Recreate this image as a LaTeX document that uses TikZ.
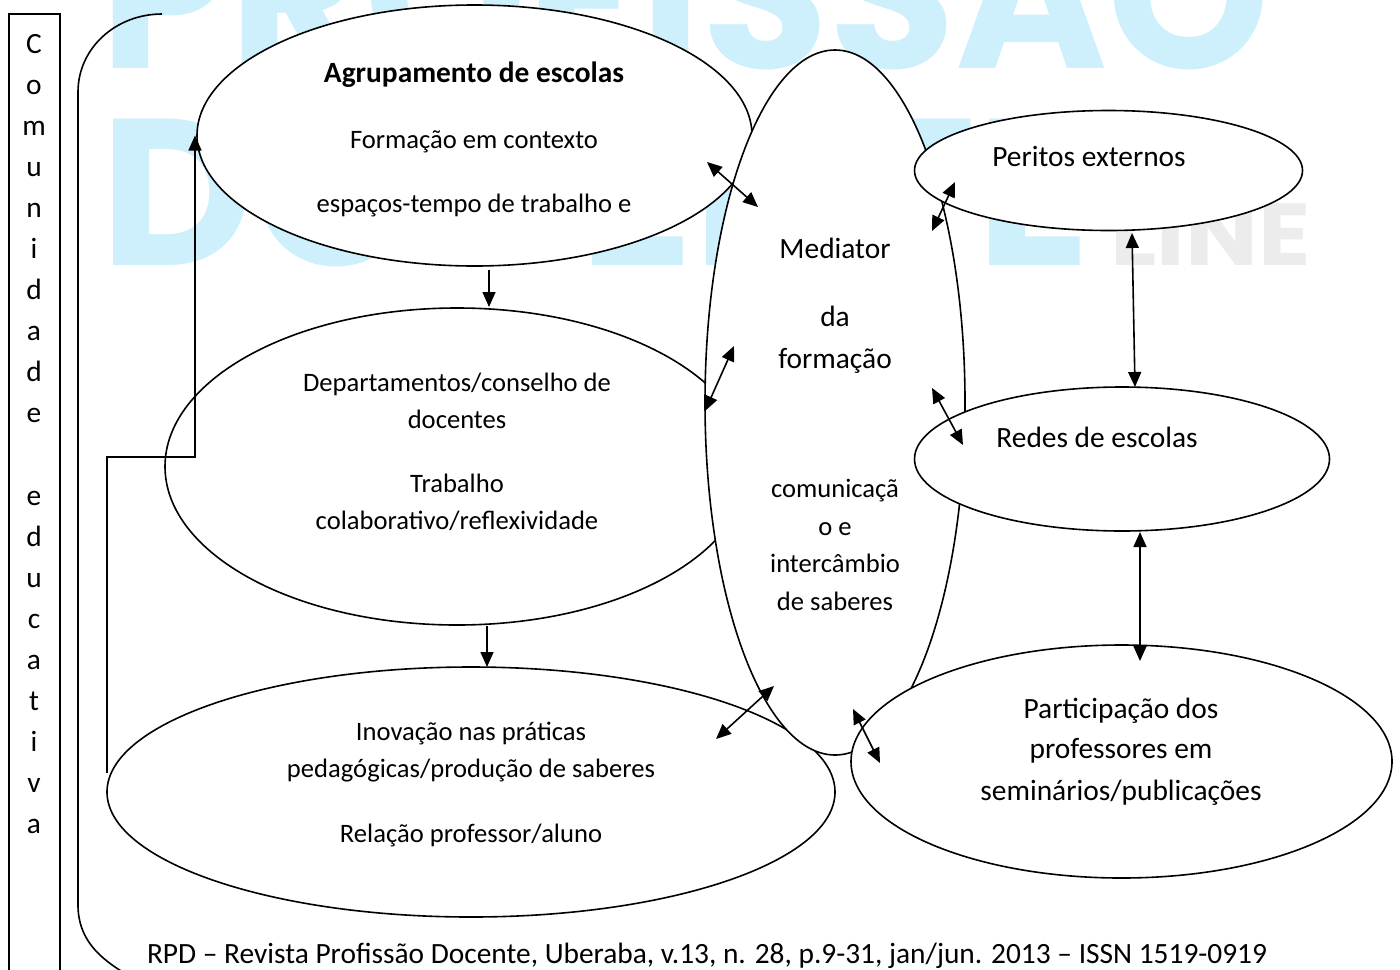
\documentclass[tikz,border=0pt]{standalone}
\usepackage{fontspec}
\usepackage{graphicx}
\setmainfont{Carlito}
\newfontfamily\wmfont{Poppins}
\usetikzlibrary{shapes.geometric,arrows.meta}
\definecolor{wmblue}{RGB}{206,239,252}
\definecolor{wmgray}{RGB}{236,236,236}
\begin{document}
\begin{tikzpicture}[x=0.5pt,y=-0.5pt,
  ell/.style={draw, ellipse, fill=white, line width=0.8pt, inner sep=0pt},
  txt/.style={inner sep=0pt, anchor=base, font=\fontsize{13.3}{16}\selectfont},
  txtl/.style={inner sep=0pt, anchor=base, font=\fontsize{14.7}{17}\selectfont},
  txtb/.style={txt, font=\fontsize{14.7}{17}\selectfont\bfseries},
  wm/.style={inner sep=0pt, font=\wmfont\bfseries},
  conn/.style={line width=0.8pt},
  dbl/.style={conn, {Triangle[length=7.5pt,width=6.5pt]}-{Triangle[length=7.5pt,width=6.5pt]}},
  one/.style={conn, -{Triangle[length=7.5pt,width=6.5pt]}}]
\path[use as bounding box, clip] (0,0) rectangle (1400,969);
% watermark
\node[wm, anchor=base west, text=wmblue] (wm1) at (100,68) {\resizebox{585pt}{73.5pt}{\raisebox{0pt}[\fontcharht\font`\P][0pt]{PROFISSÃO}}};
\node[wm, anchor=base west, text=wmgray] (wm3) at (1110,265) {\resizebox{100pt}{31pt}{\raisebox{0pt}[\fontcharht\font`\L][0pt]{LINE}}};
\node[wm, anchor=base west, text=wmblue] (wm2) at (100,265) {\resizebox{495pt}{73.5pt}{\raisebox{0pt}[\fontcharht\font`\D][0pt]{DOCENTE}}};
% ellipses
\node[ell, minimum width=277.5pt, minimum height=130.5pt] (agr) at (474.5,135.5) {};
\node[ell, minimum width=292pt, minimum height=158.5pt] (dep) at (457,466.5) {};
\node[ell, minimum width=364pt, minimum height=125pt] (inov) at (471,792) {};
\node[ell, minimum width=130pt, minimum height=352.5pt] (med) at (835,402.5) {};
\node[ell, minimum width=194pt, minimum height=60pt] (per) at (1108.5,170.5) {};
\node[ell, minimum width=207.5pt, minimum height=72pt] (red) at (1122,459) {};
\node[ell, minimum width=270.5pt, minimum height=116.5pt] (part) at (1121.5,761.5) {};
% left box
\node[draw, line width=0.8pt, anchor=north west, minimum width=25.5pt, minimum height=500pt, inner sep=0pt] (cbox) at (8,13) {};
\foreach \ch [count=\i from 0] in {C,o,m,u,n,i,d,a,d,e,{},e,d,u,c,a,t,i,v,a}
  \node[txtl] (c\i) at (34,{53+41.1*\i}) {\ch};
% bracket
\draw[conn] (162,14) .. controls (116,14) and (78,48) .. (78,92) -- (78,905) .. controls (78,938) and (98,958) .. (128,975);
% feedback connector
\coordinate (fbs) at (107,773);
\coordinate (fbj) at (195,457);
\draw[one] (fbs) |- (fbj) -- (fbj |- agr.west);
% texts
\node[txtb] (agr1) at (474,82) {Agrupamento de escolas};
\node[txt] (agr2) at (474,148) {Formação em contexto};
\node[txt] (agr3) at (474,212) {espaços-tempo de trabalho e};
\node[txt] (dep1) at (457,391) {Departamentos/conselho de};
\node[txt] (dep2) at (457,428) {docentes};
\node[txt] (dep3) at (457,492) {Trabalho};
\node[txt] (dep4) at (457,529) {colaborativo/reflexividade};
\node[txt] (inov1) at (471,740) {Inovação nas práticas};
\node[txt] (inov2) at (471,777) {pedagógicas/produção de saberes};
\node[txt] (inov3) at (471,842) {Relação professor/aluno};
\node[txtl] (med1) at (835,258) {Mediator};
\node[txtl] (med2) at (835,326) {da};
\node[txtl] (med3) at (835,368) {formação};
\node[txt] (med4) at (835,497) {comunicaçã};
\node[txt] (med5) at (835,535) {o e};
\node[txt] (med6) at (835,572) {intercâmbio};
\node[txt] (med7) at (835,610) {de saberes};
\node[txtl] (per1) at (1089,166) {Peritos externos};
\node[txtl] (red1) at (1097,447) {Redes de escolas};
\node[txtl] (part1) at (1121,718) {Participação dos};
\node[txtl] (part2) at (1121,758) {professores em};
\node[txtl] (part3) at (1121,800) {seminários/publicações};
\node[txtl] (foot) at (707,963) {RPD – Revista Profissão Docente, Uberaba, v.13, n. 28, p.9-31, jan/jun. 2013 – ISSN 1519-0919};
% arrows
\coordinate (a1) at (707,162); \coordinate (a2) at (758,207);
\coordinate (p1) at (955,182); \coordinate (p2) at (932,231);
\coordinate (d1) at (734,346); \coordinate (d2) at (705,411);
\coordinate (r1) at (932,388); \coordinate (r2) at (963,445);
\coordinate (i1) at (774,686); \coordinate (i2) at (716,739);
\coordinate (q1) at (853,709); \coordinate (q2) at (880,763);
\coordinate (pr1) at (1132,233); \coordinate (pr2) at (1135,387);
\coordinate (rp1) at (1140,532); \coordinate (rp2) at (1140,661);
\coordinate (ad1) at (489,270); \coordinate (ad2) at (489,307);
\coordinate (di1) at (487,626); \coordinate (di2) at (487,667);
\draw[dbl] (a1) -- (a2);
\draw[dbl] (p1) -- (p2);
\draw[dbl] (d1) -- (d2);
\draw[dbl] (r1) -- (r2);
\draw[dbl] (i1) -- (i2);
\draw[dbl] (q1) -- (q2);
\draw[dbl] (pr1) -- (pr2);
\draw[dbl] (rp1) -- (rp2);
\draw[one] (ad1) -- (ad2);
\draw[one] (di1) -- (di2);
\end{tikzpicture}
\end{document}
